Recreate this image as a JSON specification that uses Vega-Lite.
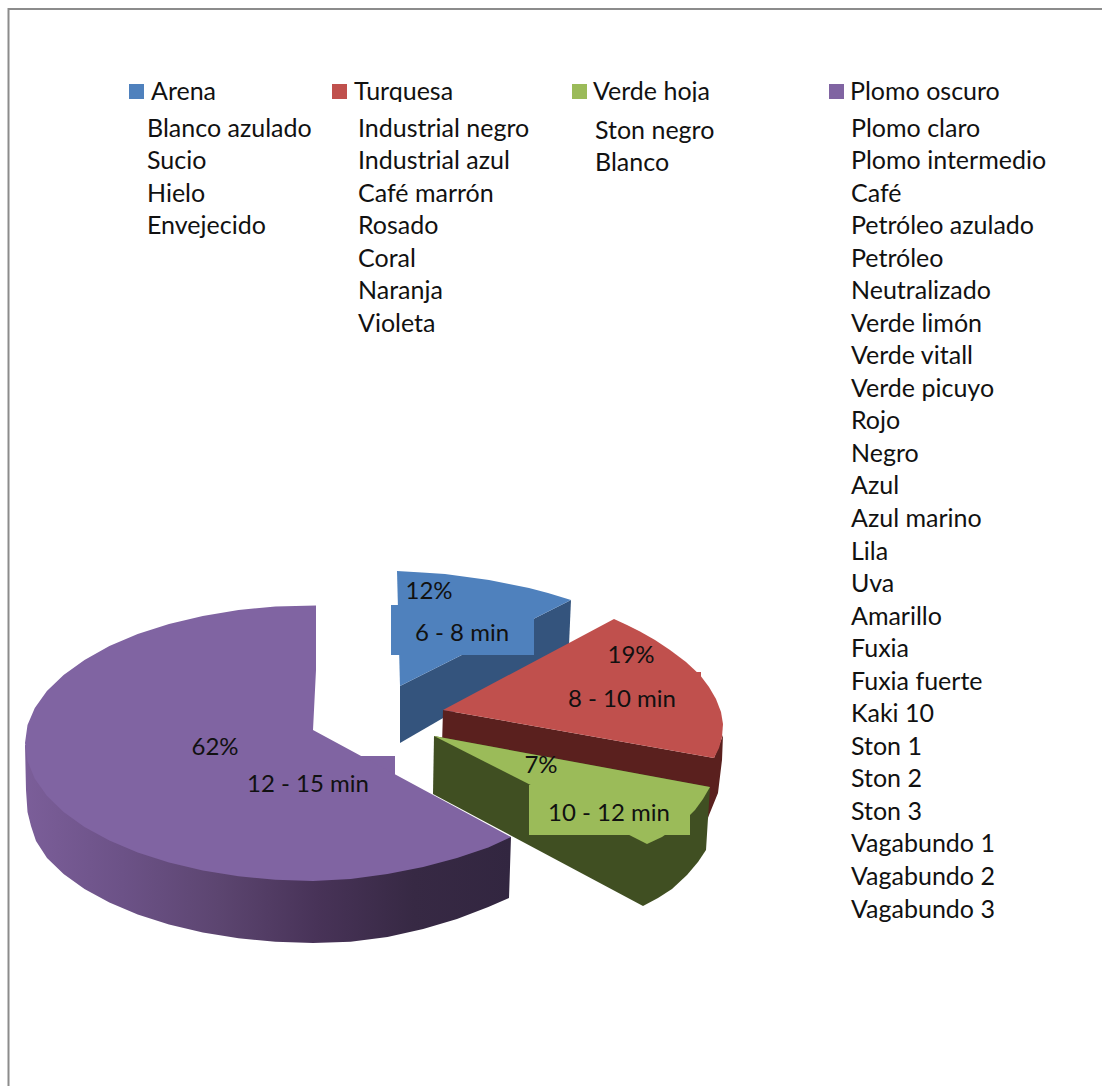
{
  "$schema": "https://vega.github.io/schema/vega-lite/v6.json",
  "width": 1102,
  "height": 1086,
  "padding": 0,
  "autosize": "none",
  "background": "white",
  "config": {"view": {"stroke": null}, "text": {"font": "Lato", "fontSize": 24, "color": "#111111"}},
  "datasets": {
    "contornos": [
      {"cara":"marco","orden":1,"u":8.5,"v":1086},{"cara":"marco","orden":2,"u":8.5,"v":9},{"cara":"marco","orden":3,"u":1102,"v":9},

      {"cara":"plomo lado","orden":1,"u":25,"v":745},{"cara":"plomo lado","orden":2,"u":26,"v":790},{"cara":"plomo lado","orden":3,"u":27.5,"v":812},{"cara":"plomo lado","orden":4,"u":31,"v":826},{"cara":"plomo lado","orden":5,"u":36,"v":841},{"cara":"plomo lado","orden":6,"u":47,"v":858},{"cara":"plomo lado","orden":7,"u":63.6,"v":874},{"cara":"plomo lado","orden":8,"u":84.5,"v":889},{"cara":"plomo lado","orden":9,"u":109.4,"v":902.6},{"cara":"plomo lado","orden":10,"u":137.7,"v":914.5},{"cara":"plomo lado","orden":11,"u":169,"v":924.5},{"cara":"plomo lado","orden":12,"u":202.8,"v":932.5},{"cara":"plomo lado","orden":13,"u":238.5,"v":938.3},{"cara":"plomo lado","orden":14,"u":275.4,"v":941.8},{"cara":"plomo lado","orden":15,"u":313,"v":943},{"cara":"plomo lado","orden":16,"u":350.6,"v":941.8},{"cara":"plomo lado","orden":17,"u":387.5,"v":937},{"cara":"plomo lado","orden":18,"u":423.2,"v":929},{"cara":"plomo lado","orden":19,"u":457,"v":919},{"cara":"plomo lado","orden":20,"u":488.3,"v":907},{"cara":"plomo lado","orden":21,"u":509,"v":898},{"cara":"plomo lado","orden":22,"u":511,"v":837},{"cara":"plomo lado","orden":23,"u":300,"v":800},

      {"cara":"arena lado","orden":1,"u":571,"v":600},{"cara":"arena lado","orden":2,"u":569,"v":645},{"cara":"arena lado","orden":3,"u":400,"v":743},{"cara":"arena lado","orden":4,"u":400,"v":686},

      {"cara":"arena","orden":1,"u":397,"v":571},{"cara":"arena","orden":2,"u":422,"v":572.5},{"cara":"arena","orden":3,"u":445,"v":574},{"cara":"arena","orden":4,"u":467,"v":577},{"cara":"arena","orden":5,"u":489,"v":580},{"cara":"arena","orden":6,"u":509,"v":584},{"cara":"arena","orden":7,"u":529,"v":588},{"cara":"arena","orden":8,"u":548,"v":593},{"cara":"arena","orden":9,"u":571,"v":600},{"cara":"arena","orden":10,"u":400,"v":686},

      {"cara":"arena caja","orden":1,"u":391,"v":605},{"cara":"arena caja","orden":2,"u":534,"v":605},{"cara":"arena caja","orden":3,"u":534,"v":655},{"cara":"arena caja","orden":4,"u":391,"v":655},

      {"cara":"turquesa lado","orden":1,"u":443,"v":710},{"cara":"turquesa lado","orden":2,"u":714,"v":758},{"cara":"turquesa lado","orden":3,"u":723,"v":735},{"cara":"turquesa lado","orden":4,"u":722,"v":760},{"cara":"turquesa lado","orden":5,"u":718,"v":793},{"cara":"turquesa lado","orden":6,"u":707,"v":820},{"cara":"turquesa lado","orden":7,"u":707,"v":795},{"cara":"turquesa lado","orden":8,"u":442,"v":745},

      {"cara":"turquesa","orden":1,"u":614,"v":619},{"cara":"turquesa","orden":2,"u":627,"v":625},{"cara":"turquesa","orden":3,"u":640,"v":631.5},{"cara":"turquesa","orden":4,"u":655,"v":640},{"cara":"turquesa","orden":5,"u":670,"v":650},{"cara":"turquesa","orden":6,"u":686,"v":662},{"cara":"turquesa","orden":7,"u":700,"v":675},{"cara":"turquesa","orden":8,"u":709,"v":687},{"cara":"turquesa","orden":9,"u":716,"v":699},{"cara":"turquesa","orden":10,"u":721,"v":712},{"cara":"turquesa","orden":11,"u":723,"v":724},{"cara":"turquesa","orden":12,"u":722,"v":737},{"cara":"turquesa","orden":13,"u":719,"v":748},{"cara":"turquesa","orden":14,"u":714,"v":758},{"cara":"turquesa","orden":15,"u":443,"v":710},

      {"cara":"turquesa caja","orden":1,"u":540,"v":672},{"cara":"turquesa caja","orden":2,"u":701,"v":672},{"cara":"turquesa caja","orden":3,"u":701,"v":722},{"cara":"turquesa caja","orden":4,"u":540,"v":722},

      {"cara":"verde lado","orden":1,"u":434,"v":736},{"cara":"verde lado","orden":2,"u":710,"v":787},{"cara":"verde lado","orden":3,"u":706,"v":850},{"cara":"verde lado","orden":4,"u":698,"v":862},{"cara":"verde lado","orden":5,"u":687,"v":875},{"cara":"verde lado","orden":6,"u":672,"v":889},{"cara":"verde lado","orden":7,"u":658,"v":898},{"cara":"verde lado","orden":8,"u":643,"v":906},{"cara":"verde lado","orden":9,"u":433,"v":794},

      {"cara":"verde","orden":1,"u":434,"v":736},{"cara":"verde","orden":2,"u":710,"v":787},{"cara":"verde","orden":3,"u":703,"v":799},{"cara":"verde","orden":4,"u":695,"v":810},{"cara":"verde","orden":5,"u":686,"v":819},{"cara":"verde","orden":6,"u":675,"v":828},{"cara":"verde","orden":7,"u":662,"v":837},{"cara":"verde","orden":8,"u":647,"v":844},

      {"cara":"verde caja","orden":1,"u":529,"v":785},{"cara":"verde caja","orden":2,"u":690,"v":785},{"cara":"verde caja","orden":3,"u":690,"v":835},{"cara":"verde caja","orden":4,"u":529,"v":835},

      {"cara":"plomo caja","orden":1,"u":234,"v":756},{"cara":"plomo caja","orden":2,"u":395,"v":756},{"cara":"plomo caja","orden":3,"u":395,"v":806},{"cara":"plomo caja","orden":4,"u":234,"v":806},

      {"cara":"plomo","orden":1,"u":316,"v":605.5},{"cara":"plomo","orden":2,"u":275.4,"v":606.5},{"cara":"plomo","orden":3,"u":238.5,"v":610},{"cara":"plomo","orden":4,"u":202.8,"v":616},{"cara":"plomo","orden":5,"u":169,"v":624},{"cara":"plomo","orden":6,"u":137.7,"v":634},{"cara":"plomo","orden":7,"u":109.4,"v":646},{"cara":"plomo","orden":8,"u":84.5,"v":660},{"cara":"plomo","orden":9,"u":63.6,"v":675},{"cara":"plomo","orden":10,"u":46.9,"v":691},{"cara":"plomo","orden":11,"u":34.8,"v":708},{"cara":"plomo","orden":12,"u":27.5,"v":725},{"cara":"plomo","orden":13,"u":25,"v":743},{"cara":"plomo","orden":14,"u":27.5,"v":761},{"cara":"plomo","orden":15,"u":34.8,"v":778.7},{"cara":"plomo","orden":16,"u":46.9,"v":795.8},{"cara":"plomo","orden":17,"u":63.6,"v":812},{"cara":"plomo","orden":18,"u":84.5,"v":827},{"cara":"plomo","orden":19,"u":109.4,"v":840.6},{"cara":"plomo","orden":20,"u":137.7,"v":852.5},{"cara":"plomo","orden":21,"u":169,"v":862.5},{"cara":"plomo","orden":22,"u":202.8,"v":870.5},{"cara":"plomo","orden":23,"u":238.5,"v":876.3},{"cara":"plomo","orden":24,"u":275.4,"v":879.8},{"cara":"plomo","orden":25,"u":313,"v":881},{"cara":"plomo","orden":26,"u":350.6,"v":879},{"cara":"plomo","orden":27,"u":387.5,"v":874},{"cara":"plomo","orden":28,"u":423.2,"v":867},{"cara":"plomo","orden":29,"u":457,"v":858},{"cara":"plomo","orden":30,"u":488.3,"v":847.5},{"cara":"plomo","orden":31,"u":511,"v":837},{"cara":"plomo","orden":32,"u":313,"v":730},{"cara":"plomo","orden":33,"u":316,"v":670},

      {"cara":"tapa","orden":1,"u":340,"v":102},{"cara":"tapa","orden":2,"u":720,"v":102},{"cara":"tapa","orden":3,"u":720,"v":112},{"cara":"tapa","orden":4,"u":340,"v":112}
    ],
    "porciones": [
      {"tiempo":"6 - 8 min","pct":0.12,"u":462,"v":634,"up":429,"vp":592},
      {"tiempo":"8 - 10 min","pct":0.19,"u":622,"v":700,"up":631,"vp":656},
      {"tiempo":"10 - 12 min","pct":0.07,"u":609,"v":814,"up":541,"vp":766},
      {"tiempo":"12 - 15 min","pct":0.62,"u":308,"v":785,"up":215,"vp":748}
    ],
    "series": [
      {"columna":0,"nombre":"Arena"},
      {"columna":1,"nombre":"Turquesa"},
      {"columna":2,"nombre":"Verde hoja"},
      {"columna":3,"nombre":"Plomo oscuro"}
    ],
    "colores": [
      {"columna":0,"linea":0,"nombre":"Blanco azulado"},{"columna":0,"linea":1,"nombre":"Sucio"},{"columna":0,"linea":2,"nombre":"Hielo"},{"columna":0,"linea":3,"nombre":"Envejecido"},
      {"columna":1,"linea":0,"nombre":"Industrial negro"},{"columna":1,"linea":1,"nombre":"Industrial azul"},{"columna":1,"linea":2,"nombre":"Café marrón"},{"columna":1,"linea":3,"nombre":"Rosado"},{"columna":1,"linea":4,"nombre":"Coral"},{"columna":1,"linea":5,"nombre":"Naranja"},{"columna":1,"linea":6,"nombre":"Violeta"},
      {"columna":2,"linea":0.08,"nombre":"Ston negro"},{"columna":2,"linea":1.05,"nombre":"Blanco"},
      {"columna":3,"linea":0,"nombre":"Plomo claro"},{"columna":3,"linea":1,"nombre":"Plomo intermedio"},{"columna":3,"linea":2,"nombre":"Café"},{"columna":3,"linea":3,"nombre":"Petróleo azulado"},{"columna":3,"linea":4,"nombre":"Petróleo"},{"columna":3,"linea":5,"nombre":"Neutralizado"},{"columna":3,"linea":6,"nombre":"Verde limón"},{"columna":3,"linea":7,"nombre":"Verde vitall"},{"columna":3,"linea":8,"nombre":"Verde picuyo"},{"columna":3,"linea":9,"nombre":"Rojo"},{"columna":3,"linea":10,"nombre":"Negro"},{"columna":3,"linea":11,"nombre":"Azul"},{"columna":3,"linea":12,"nombre":"Azul marino"},{"columna":3,"linea":13,"nombre":"Lila"},{"columna":3,"linea":14,"nombre":"Uva"},{"columna":3,"linea":15,"nombre":"Amarillo"},{"columna":3,"linea":16,"nombre":"Fuxia"},{"columna":3,"linea":17,"nombre":"Fuxia fuerte"},{"columna":3,"linea":18,"nombre":"Kaki 10"},{"columna":3,"linea":19,"nombre":"Ston 1"},{"columna":3,"linea":20,"nombre":"Ston 2"},{"columna":3,"linea":21,"nombre":"Ston 3"},{"columna":3,"linea":22,"nombre":"Vagabundo 1"},{"columna":3,"linea":23,"nombre":"Vagabundo 2"},{"columna":3,"linea":24,"nombre":"Vagabundo 3"}
    ]
  },
  "resolve": {"scale": {"x": "independent", "y": "independent", "color": "independent"}},
  "layer": [
    {
      "data": {"name": "contornos"},
      "transform": [{"filter": "datum.cara === 'marco'"}],
      "mark": {"type": "line", "stroke": "#8c8c8c", "strokeWidth": 2, "clip": false},
      "encoding": {
        "x": {"field": "u", "type": "quantitative", "axis": null, "scale": {"domain": [0, 1102], "range": [0, 1102]}},
        "y": {"field": "v", "type": "quantitative", "axis": null, "scale": {"domain": [0, 1086], "range": [0, 1086]}},
        "order": {"field": "orden"}
      }
    },
    {
      "data": {"name": "contornos"},
      "transform": [{"filter": "datum.cara === 'plomo lado'"}],
      "mark": {
        "type": "line",
        "strokeWidth": 0,
        "fill": {
          "gradient": "linear", "x1": 0, "x2": 1, "y1": 0, "y2": 0,
          "stops": [
            {"offset": 0, "color": "#7b5e99"},
            {"offset": 0.2, "color": "#6c5287"},
            {"offset": 0.4, "color": "#5c4570"},
            {"offset": 0.6, "color": "#483358"},
            {"offset": 0.8, "color": "#372944"},
            {"offset": 1, "color": "#322640"}
          ]
        }
      },
      "encoding": {
        "x": {"field": "u", "type": "quantitative", "axis": null, "scale": {"domain": [0, 1102], "range": [0, 1102]}},
        "y": {"field": "v", "type": "quantitative", "axis": null, "scale": {"domain": [0, 1086], "range": [0, 1086]}},
        "order": {"field": "orden"}
      }
    },
    {"data": {"name": "contornos"}, "transform": [{"filter": "datum.cara === 'arena lado'"}], "mark": {"type": "line", "strokeWidth": 0, "fill": "#34547d"}, "encoding": {"x": {"field": "u", "type": "quantitative", "axis": null, "scale": {"domain": [0, 1102], "range": [0, 1102]}}, "y": {"field": "v", "type": "quantitative", "axis": null, "scale": {"domain": [0, 1086], "range": [0, 1086]}}, "order": {"field": "orden"}}},
    {"data": {"name": "contornos"}, "transform": [{"filter": "datum.cara === 'arena' || datum.cara === 'arena caja'"}], "mark": {"type": "line", "strokeWidth": 0, "fill": "#4f81bd"}, "encoding": {"detail": {"field": "cara"}, "x": {"field": "u", "type": "quantitative", "axis": null, "scale": {"domain": [0, 1102], "range": [0, 1102]}}, "y": {"field": "v", "type": "quantitative", "axis": null, "scale": {"domain": [0, 1086], "range": [0, 1086]}}, "order": {"field": "orden"}}},
    {"data": {"name": "contornos"}, "transform": [{"filter": "datum.cara === 'turquesa lado'"}], "mark": {"type": "line", "strokeWidth": 0, "fill": "#5a201e"}, "encoding": {"x": {"field": "u", "type": "quantitative", "axis": null, "scale": {"domain": [0, 1102], "range": [0, 1102]}}, "y": {"field": "v", "type": "quantitative", "axis": null, "scale": {"domain": [0, 1086], "range": [0, 1086]}}, "order": {"field": "orden"}}},
    {"data": {"name": "contornos"}, "transform": [{"filter": "datum.cara === 'turquesa' || datum.cara === 'turquesa caja'"}], "mark": {"type": "line", "strokeWidth": 0, "fill": "#c0504d"}, "encoding": {"detail": {"field": "cara"}, "x": {"field": "u", "type": "quantitative", "axis": null, "scale": {"domain": [0, 1102], "range": [0, 1102]}}, "y": {"field": "v", "type": "quantitative", "axis": null, "scale": {"domain": [0, 1086], "range": [0, 1086]}}, "order": {"field": "orden"}}},
    {"data": {"name": "contornos"}, "transform": [{"filter": "datum.cara === 'verde lado'"}], "mark": {"type": "line", "strokeWidth": 0, "fill": "#404f22"}, "encoding": {"x": {"field": "u", "type": "quantitative", "axis": null, "scale": {"domain": [0, 1102], "range": [0, 1102]}}, "y": {"field": "v", "type": "quantitative", "axis": null, "scale": {"domain": [0, 1086], "range": [0, 1086]}}, "order": {"field": "orden"}}},
    {"data": {"name": "contornos"}, "transform": [{"filter": "datum.cara === 'verde' || datum.cara === 'verde caja'"}], "mark": {"type": "line", "strokeWidth": 0, "fill": "#9bbb59"}, "encoding": {"detail": {"field": "cara"}, "x": {"field": "u", "type": "quantitative", "axis": null, "scale": {"domain": [0, 1102], "range": [0, 1102]}}, "y": {"field": "v", "type": "quantitative", "axis": null, "scale": {"domain": [0, 1086], "range": [0, 1086]}}, "order": {"field": "orden"}}},
    {"data": {"name": "contornos"}, "transform": [{"filter": "datum.cara === 'plomo' || datum.cara === 'plomo caja'"}], "mark": {"type": "line", "strokeWidth": 0, "fill": "#8064a2"}, "encoding": {"detail": {"field": "cara"}, "x": {"field": "u", "type": "quantitative", "axis": null, "scale": {"domain": [0, 1102], "range": [0, 1102]}}, "y": {"field": "v", "type": "quantitative", "axis": null, "scale": {"domain": [0, 1086], "range": [0, 1086]}}, "order": {"field": "orden"}}},
    {
      "data": {"name": "porciones"},
      "mark": {"type": "text", "align": "center", "baseline": "middle"},
      "encoding": {
        "x": {"field": "up", "type": "quantitative", "axis": null, "scale": {"domain": [0, 1102], "range": [0, 1102]}},
        "y": {"field": "vp", "type": "quantitative", "axis": null, "scale": {"domain": [0, 1086], "range": [0, 1086]}},
        "text": {"field": "pct", "type": "quantitative", "format": ".0%"}
      }
    },
    {
      "data": {"name": "porciones"},
      "mark": {"type": "text", "align": "center", "baseline": "middle"},
      "encoding": {
        "x": {"field": "u", "type": "quantitative", "axis": null, "scale": {"domain": [0, 1102], "range": [0, 1102]}},
        "y": {"field": "v", "type": "quantitative", "axis": null, "scale": {"domain": [0, 1086], "range": [0, 1086]}},
        "text": {"field": "tiempo"}
      }
    },
    {
      "data": {"name": "series"},
      "mark": {"type": "point", "shape": "square", "filled": true, "size": 225, "opacity": 1},
      "encoding": {
        "x": {"field": "columna", "type": "quantitative", "axis": null, "scale": {"domain": [0, 1, 2, 3], "range": [136.5, 339.5, 579.5, 836.5]}},
        "y": {"datum": 91.5, "type": "quantitative", "axis": null, "scale": {"domain": [0, 1086], "range": [0, 1086]}},
        "color": {"field": "nombre", "legend": null, "scale": {"domain": ["Arena", "Turquesa", "Verde hoja", "Plomo oscuro"], "range": ["#4f81bd", "#c0504d", "#9bbb59", "#8064a2"]}}
      }
    },
    {
      "data": {"name": "series"},
      "mark": {"type": "text", "align": "left", "baseline": "middle", "fontSize": 25},
      "encoding": {
        "x": {"field": "columna", "type": "quantitative", "axis": null, "scale": {"domain": [0, 1, 2, 3], "range": [151, 354, 593, 850]}},
        "y": {"datum": 91.5, "type": "quantitative", "axis": null, "scale": {"domain": [0, 1086], "range": [0, 1086]}},
        "text": {"field": "nombre"}
      }
    },
    {"data": {"name": "contornos"}, "transform": [{"filter": "datum.cara === 'tapa'"}], "mark": {"type": "line", "strokeWidth": 0, "fill": "white"}, "encoding": {"x": {"field": "u", "type": "quantitative", "axis": null, "scale": {"domain": [0, 1102], "range": [0, 1102]}}, "y": {"field": "v", "type": "quantitative", "axis": null, "scale": {"domain": [0, 1086], "range": [0, 1086]}}, "order": {"field": "orden"}}},
    {
      "data": {"name": "colores"},
      "mark": {"type": "text", "align": "left", "baseline": "middle", "fontSize": 25},
      "encoding": {
        "x": {"field": "columna", "type": "quantitative", "axis": null, "scale": {"domain": [0, 1, 2, 3], "range": [147, 358, 595, 851]}},
        "y": {"field": "linea", "type": "quantitative", "axis": null, "scale": {"domain": [0, 24], "range": [128.5, 909.5]}},
        "text": {"field": "nombre"}
      }
    }
  ]
}
